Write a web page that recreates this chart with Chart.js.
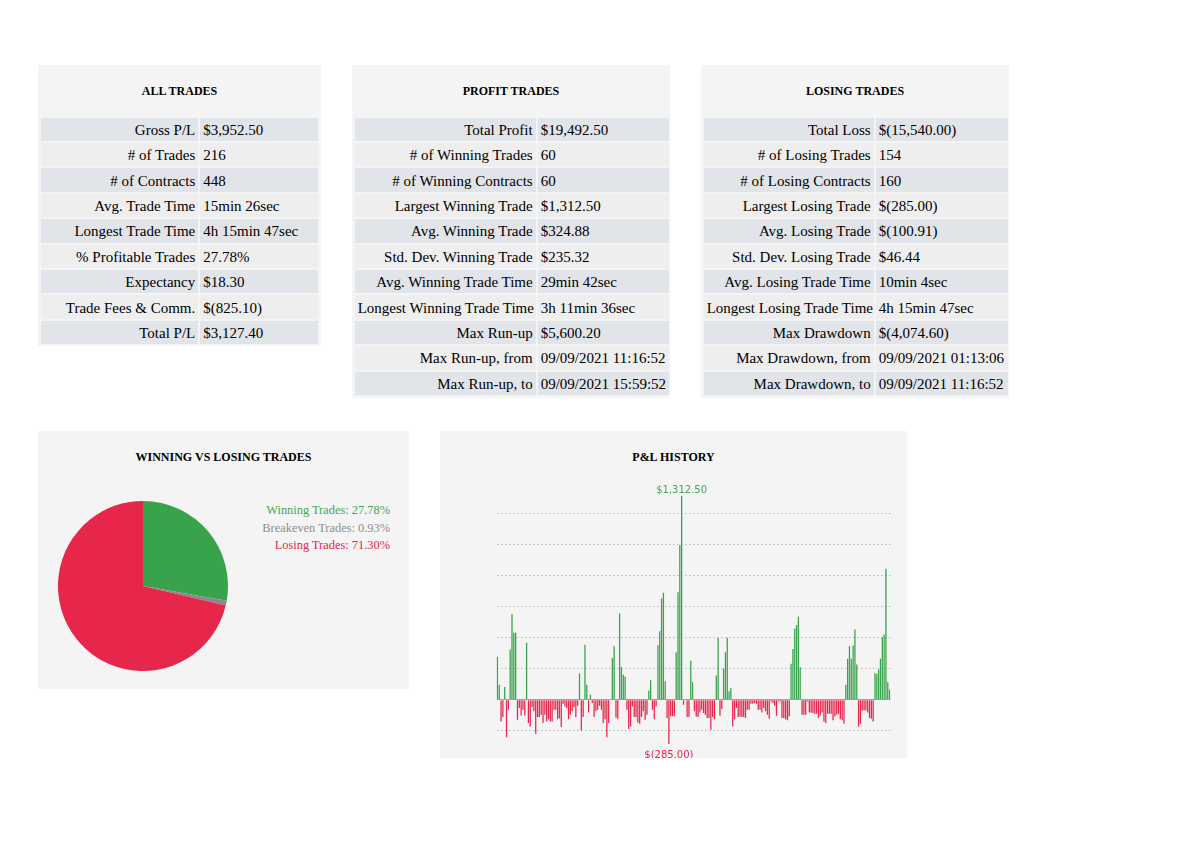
<!DOCTYPE html>
<html>
<head>
<meta charset="utf-8">
<title>Trade Report</title>
<script src="https://cdn.jsdelivr.net/npm/chart.js@4.4.0/dist/chart.umd.min.js"></script>
<style>
  body { margin: 0; background: #fff; color: #000; font-family: "Liberation Serif", "Times New Roman", serif; }
  .panel { position: absolute; background: #f4f4f4; overflow: hidden; }
  .panel h3 { position: absolute; left: 0; right: 0; top: 19px; margin: 0; font-size: 12px; line-height: 14px; text-align: center; font-weight: bold; }
  .stats { position: absolute; top: 50.7px; left: 0.7px; border-collapse: separate; border-spacing: 2px; table-layout: fixed; font-size: 15px; }
  .stats td { height: 23.4px; padding: 1px 3px 0 3px; white-space: nowrap; line-height: 16px; box-sizing: border-box; }
  .stats td.label { text-align: right; }
  .stats tr:nth-child(odd) td { background: #e1e4e8; }
  .stats tr:nth-child(even) td { background: #eeeeee; }
  .legend { position: absolute; right: 19px; top: 71px; text-align: right; font-size: 12.4px; line-height: 17.5px; }
  canvas { position: absolute; }
</style>
</head>
<body>

<div class="panel" style="left:38px; top:65px; width:283px; height:281px;">
  <h3>ALL TRADES</h3>
  <table class="stats" id="allTrades"></table>
</div>

<div class="panel" style="left:352px; top:65px; width:318px; height:333px;">
  <h3>PROFIT TRADES</h3>
  <table class="stats" id="profitTrades"></table>
</div>

<div class="panel" style="left:701px; top:65px; width:308px; height:333px;">
  <h3>LOSING TRADES</h3>
  <table class="stats" id="losingTrades"></table>
</div>

<div class="panel" style="left:38px; top:431px; width:371px; height:258px;">
  <h3>WINNING VS LOSING TRADES</h3>
  <canvas id="pieChart" width="170" height="170" style="left:20px; top:69.5px;"></canvas>
  <div class="legend" id="pieLegend"></div>
</div>

<div class="panel" style="left:440px; top:431px; width:467px; height:327px;">
  <h3>P&amp;L HISTORY</h3>
  <canvas id="pnlChart" width="410" height="290" style="left:50px; top:44px;"></canvas>
</div>

<script>
// Bảng thống kê
const allTradesRows = [
  ["Gross P/L", "$3,952.50"],
  ["# of Trades", "216"],
  ["# of Contracts", "448"],
  ["Avg. Trade Time", "15min 26sec"],
  ["Longest Trade Time", "4h 15min 47sec"],
  ["% Profitable Trades", "27.78%"],
  ["Expectancy", "$18.30"],
  ["Trade Fees & Comm.", "$(825.10)"],
  ["Total P/L", "$3,127.40"]
];

const profitTradesRows = [
  ["Total Profit", "$19,492.50"],
  ["# of Winning Trades", "60"],
  ["# of Winning Contracts", "60"],
  ["Largest Winning Trade", "$1,312.50"],
  ["Avg. Winning Trade", "$324.88"],
  ["Std. Dev. Winning Trade", "$235.32"],
  ["Avg. Winning Trade Time", "29min 42sec"],
  ["Longest Winning Trade Time", "3h 11min 36sec"],
  ["Max Run-up", "$5,600.20"],
  ["Max Run-up, from", "09/09/2021 11:16:52"],
  ["Max Run-up, to", "09/09/2021 15:59:52"]
];

const losingTradesRows = [
  ["Total Loss", "$(15,540.00)"],
  ["# of Losing Trades", "154"],
  ["# of Losing Contracts", "160"],
  ["Largest Losing Trade", "$(285.00)"],
  ["Avg. Losing Trade", "$(100.91)"],
  ["Std. Dev. Losing Trade", "$46.44"],
  ["Avg. Losing Trade Time", "10min 4sec"],
  ["Longest Losing Trade Time", "4h 15min 47sec"],
  ["Max Drawdown", "$(4,074.60)"],
  ["Max Drawdown, from", "09/09/2021 01:13:06"],
  ["Max Drawdown, to", "09/09/2021 11:16:52"]
];

// Pie: số lệnh thắng / hoà / thua
const tradeTypes = ["Winning Trades", "Breakeven Trades", "Losing Trades"];
const tradeCounts = [60, 2, 154];

// P&L từng lệnh (216 lệnh)
const pnlValues = [
  275, 97, -140, -112, 82, -241, -65, 323, 551, 430,
  430, -129, -54, -101, -65, -101, 366, -150, -172, -47,
  -75, -219, -112, -112, -97, -150, -97, -140, -125, -140,
  -140, -65, -65, -125, -120, -176, -26, -43, -54, -125,
  -97, -75, -47, -112, -39, 168, -198, -112, 353, 97,
  -82, 32, -22, -112, -75, -65, -39, -65, -150, -125,
  -241, -150, 0, 269, 344, -114, -125, 555, 211, 161,
  150, -65, -189, -172, -43, -112, -112, -146, -155, -112,
  -75, -129, -97, 60, 125, -65, -125, -43, 350, 441,
  651, 688, 118, -118, -285, -107, -107, -107, 305, 692,
  995, 1312.5, -32, 0, -112, -112, 252, 112, -75, -108,
  -112, -82, -65, -86, -97, -118, -118, -194, -112, -125,
  155, 398, -103, -60, 200, 305, 398, 54, 75, -172,
  -125, -54, -112, -108, -112, -112, -118, -65, -65, -26,
  -26, -22, -26, -65, -65, -82, -54, -75, -97, -122,
  -11, -22, -39, -103, -11, -11, -118, -118, -125, -133,
  -108, 232, 327, 458, 480, 533, 209, -97, -97, -97,
  -11, -82, -82, -86, -92, -90, -118, -103, -82, -140,
  -150, -90, -90, -90, -133, -108, -97, -90, -125, -133,
  -155, 97, 264, 344, 264, 348, 452, 226, -172, -157,
  -69, -69, -69, -82, -118, -123, -140, 172, 166, 194,
  264, 402, 419, 843, 112, 65
];
const gridTicks = [-200, 0, 200, 400, 600, 800, 1000, 1200];

const GREEN = "#38a34a";
const RED = "#e6274b";
const GRAY = "#8a8a8a";

function renderTable(id, rows) {
  const table = document.getElementById(id);
  const widths = {
    allTrades: [157.6, 118],
    profitTrades: [181, 131],
    losingTrades: [170, 132]
  }[id];
  let html = `<colgroup><col style="width:${widths[0]}px"><col style="width:${widths[1]}px"></colgroup>`;
  rows.forEach(row => {
    html += `<tr><td class="label">${row[0].replace("&", "&amp;")}</td><td>${row[1]}</td></tr>`;
  });
  table.style.width = (widths[0] + widths[1] + 6) + "px";
  table.innerHTML = html;
}

function formatMoney(v) {
  const s = Math.abs(v).toLocaleString("en-US", { minimumFractionDigits: 2, maximumFractionDigits: 2 });
  return v < 0 ? `$(${s})` : `$${s}`;
}

renderTable("allTrades", allTradesRows);
renderTable("profitTrades", profitTradesRows);
renderTable("losingTrades", losingTradesRows);

// Pie chart
const totalTrades = tradeCounts.reduce((a, b) => a + b, 0);
const legendColors = ["#41a853", "#8f8f8f", "#e3264a"];
document.getElementById("pieLegend").innerHTML = tradeTypes.map((name, i) => {
  const pct = (tradeCounts[i] / totalTrades * 100).toFixed(2);
  return `<div style="color:${legendColors[i]}">${name}: ${pct}%</div>`;
}).join("");

new Chart(document.getElementById("pieChart"), {
  type: "pie",
  data: {
    labels: tradeTypes,
    datasets: [{
      data: tradeCounts,
      backgroundColor: [GREEN, GRAY, RED],
      borderWidth: 0,
      hoverOffset: 0
    }]
  },
  options: {
    responsive: false,
    animation: false,
    plugins: { legend: { display: false }, tooltip: { enabled: false } }
  }
});

// Nhãn cho lệnh lớn nhất / nhỏ nhất
const extremeLabels = {
  id: "extremeLabels",
  afterDatasetsDraw(chart) {
    const { ctx } = chart;
    const meta = chart.getDatasetMeta(0);
    const maxIdx = pnlValues.indexOf(Math.max(...pnlValues));
    const minIdx = pnlValues.indexOf(Math.min(...pnlValues));
    ctx.save();
    ctx.font = '10px "DejaVu Sans"';
    ctx.textAlign = "center";

    const top = meta.data[maxIdx];
    ctx.fillStyle = "#45a851";
    ctx.textBaseline = "alphabetic";
    ctx.fillText(formatMoney(pnlValues[maxIdx]), top.x, top.y - 3);

    const bottom = meta.data[minIdx];
    ctx.fillStyle = RED;
    ctx.textBaseline = "top";
    ctx.fillText(formatMoney(pnlValues[minIdx]), bottom.x, bottom.y + 6);
    ctx.restore();
  }
};

new Chart(document.getElementById("pnlChart"), {
  type: "bar",
  data: {
    labels: pnlValues.map((v, i) => i + 1),
    datasets: [{
      data: pnlValues,
      backgroundColor: pnlValues.map(v => v >= 0 ? GREEN : RED),
      borderWidth: 0,
      barPercentage: 0.7,
      categoryPercentage: 1
    }]
  },
  options: {
    responsive: false,
    animation: false,
    layout: { padding: { left: 6.5, right: 9.5, top: 20.7, bottom: 21 } },
    plugins: { legend: { display: false }, tooltip: { enabled: false } },
    scales: {
      x: { display: false },
      y: {
        min: Math.min(...pnlValues),
        max: Math.max(...pnlValues),
        afterBuildTicks: axis => { axis.ticks = gridTicks.map(value => ({ value })); },
        ticks: { display: false },
        grid: {
          drawTicks: false,
          lineWidth: 1,
          color: ctx => ctx.tick && ctx.tick.value === 0 ? "#a3a3a3" : "#b5b5b5"
        },
        border: {
          display: false,
          dash: ctx => ctx.tick && ctx.tick.value === 0 ? [] : [1.5, 2.5]
        }
      }
    }
  },
  plugins: [extremeLabels]
});
</script>
</body>
</html>
